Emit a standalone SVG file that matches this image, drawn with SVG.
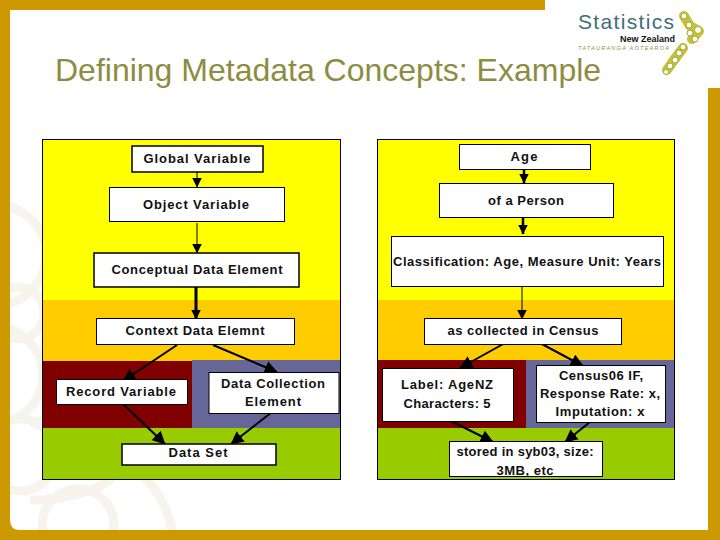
<svg xmlns="http://www.w3.org/2000/svg" width="720" height="540" viewBox="0 0 720 540">
<defs>
<marker id="a" viewBox="0 0 10 10" refX="9.500" refY="5" markerWidth="10" markerHeight="10" markerUnits="userSpaceOnUse" orient="auto"><path d="M0 0L10 5L0 10Z" fill="#000"/></marker>
<marker id="b" viewBox="0 0 10 10" refX="9.500" refY="5" markerWidth="13" markerHeight="13" markerUnits="userSpaceOnUse" orient="auto"><path d="M0 0L10 5L0 10Z" fill="#000"/></marker>
</defs>
<style>
.n{fill:#fff;stroke:#000}
.t{font:bold 13px "Liberation Sans",Arial,sans-serif;fill:#111;text-anchor:middle}
.c{fill:none;stroke:#000;marker-end:url(#a)}
.d{fill:none;stroke:#000;stroke-width:2;marker-end:url(#b)}
.w{fill:none;stroke:#f6f4ec;stroke-width:9}
</style>
<rect width="720" height="540" fill="#fff"/>
<g id="watermark">
<circle cx="-4" cy="255" r="50" class="w"/><circle cx="18" cy="313" r="26" class="w"/><circle cx="-5" cy="375" r="48" class="w"/><circle cx="20" cy="455" r="36" class="w"/><circle cx="78" cy="525" r="36" class="w"/>
<path d="M30 425Q70 405 100 420Q125 440 110 480Q80 500 30 500" class="w"/>
<path d="M125 460Q165 490 172 530" class="w"/>
</g>
<g id="frame" fill="#cc9900">
<path d="M0 0H545V10H10V520Q10 530 20 530H708V88H720V540H0Z"/>
</g>
<text x="55" y="81" font-family="'Liberation Sans',Arial,sans-serif" font-size="32" fill="#8d8d3f">Defining Metadata Concepts: Example</text>
<g id="logo">
<text x="578" y="29" font-family="'Liberation Sans',Arial,sans-serif" font-size="21" fill="#3d6f75" textLength="96">Statistics</text>
<text x="675" y="42" font-family="'Liberation Sans',Arial,sans-serif" font-size="9" font-weight="bold" fill="#111" text-anchor="end">New Zealand</text>
<text x="578" y="49.500" font-family="'Liberation Sans',Arial,sans-serif" font-size="5.500" font-style="italic" fill="#8d8d3f" textLength="91">TATAURANGA AOTEAROA</text>
<path d="M684 16L690 26L699 31L692 39" fill="none" stroke="#c2c23c" stroke-width="10" stroke-linecap="round" stroke-linejoin="round"/>
<path d="M683 48L674 60L667 70" fill="none" stroke="#c2c23c" stroke-width="10" stroke-linecap="round"/>
<g fill="#fff" stroke="#a8a828" stroke-width="1">
<circle cx="684" cy="16" r="3"/><circle cx="689" cy="25" r="3"/><circle cx="698" cy="30" r="3.500"/><circle cx="690" cy="33" r="3"/><circle cx="695" cy="39" r="3"/>
<circle cx="683" cy="47" r="3"/><circle cx="679" cy="53" r="3"/><circle cx="675" cy="60" r="3"/><circle cx="670" cy="66" r="3"/><circle cx="666" cy="72" r="2.500"/>
</g>
</g>
<g id="bands-left">
<rect x="42.500" y="139.500" width="298" height="340" fill="#ffff00"/>
<rect x="43" y="300" width="297" height="61" fill="#ffcc00"/>
<rect x="43" y="361" width="149" height="67" fill="#800000"/>
<rect x="192" y="360" width="148" height="68" fill="#666699"/>
<rect x="43" y="428" width="297" height="51" fill="#99cc00"/>
<rect x="42.500" y="139.500" width="298" height="340" fill="none" stroke="#000"/>
</g>
<g id="bands-right">
<rect x="377.500" y="139.500" width="297" height="340" fill="#ffff00"/>
<rect x="378" y="300" width="296" height="60" fill="#ffcc00"/>
<rect x="378" y="360" width="148" height="68" fill="#800000"/>
<rect x="526" y="360" width="148" height="68" fill="#666699"/>
<rect x="378" y="428" width="296" height="51" fill="#99cc00"/>
<rect x="377.500" y="139.500" width="297" height="340" fill="none" stroke="#000"/>
</g>
<g id="connectors">
<path class="c" d="M197 172V187"/>
<path class="c" d="M197 223V253"/>
<path class="c" d="M196 281V319" stroke-width="3"/>
<path class="d" d="M177 345L123 381"/>
<path class="d" d="M213 345L277 372"/>
<path class="d" d="M122 403L165 444" stroke-width="1.500"/>
<path class="d" d="M272 412L231 444"/>
<path class="c" d="M524 170V183" stroke-width="2.500"/>
<path class="c" d="M523 216V234" stroke-width="2.500"/>
<path class="c" d="M522 285V319"/>
<path class="d" d="M505 343L460 368"/>
<path class="d" d="M540 343L583 366"/>
<path class="d" d="M445 418L493 442"/>
<path class="d" d="M590 422L565 442"/>
</g>
<g id="n1"><rect class="n" x="132" y="146" width="131" height="26" stroke-width="1.500"/><text class="t" x="197" y="163" textLength="107">Global Variable</text></g>
<g id="n2"><rect class="n" x="109.500" y="187.500" width="175" height="34"/><text class="t" x="196" y="209" textLength="106">Object Variable</text></g>
<g id="n3"><rect class="n" x="94" y="253" width="205" height="34" stroke-width="1.500"/><text class="t" x="197" y="274" textLength="171">Conceptual Data Element</text></g>
<g id="n4"><rect class="n" x="96.500" y="318.500" width="198" height="26"/><text class="t" x="195" y="335" textLength="139">Context Data Elemnt</text></g>
<g id="n5"><rect class="n" x="56.500" y="379.500" width="131" height="25"/><text class="t" x="121" y="396" textLength="110">Record Variable</text></g>
<g id="n6"><rect class="n" x="209" y="372.500" width="130" height="41"/><text class="t" x="273" y="388" textLength="104">Data Collection</text><text class="t" x="273" y="406" textLength="56">Element</text></g>
<g id="n7"><rect class="n" x="122" y="444" width="154" height="21" stroke-width="1.500"/><text class="t" x="198" y="457" textLength="59">Data Set</text></g>
<g id="n8"><rect class="n" x="459.500" y="144.500" width="131" height="25"/><text class="t" x="524" y="161" textLength="27">Age</text></g>
<g id="n9"><rect class="n" x="439.500" y="183.500" width="174" height="34"/><text class="t" x="526" y="205" textLength="76">of a Person</text></g>
<g id="n10"><rect class="n" x="391.500" y="236.500" width="272" height="50"/><text class="t" x="527" y="266" textLength="268">Classification: Age, Measure Unit: Years</text></g>
<g id="n11"><rect class="n" x="424.500" y="318.500" width="197" height="26"/><text class="t" x="523" y="335" textLength="151">as collected in Census</text></g>
<g id="n12"><rect class="n" x="382.500" y="368.500" width="131" height="53"/><text class="t" x="447" y="389" textLength="92">Label: AgeNZ</text><text class="t" x="447" y="408" textLength="87">Characters: 5</text></g>
<g id="n13"><rect class="n" x="536.500" y="365.500" width="129" height="57"/><text class="t" x="601" y="380" textLength="84">Census06 IF,</text><text class="t" x="600" y="398" textLength="120">Response Rate: x,</text><text class="t" x="600" y="416" textLength="89">Imputation: x</text></g>
<g id="n14"><rect class="n" x="449.500" y="441.500" width="153" height="35"/><text class="t" x="525" y="456" textLength="137">stored in syb03, size:</text><text class="t" x="525" y="475" textLength="57">3MB, etc</text></g>
</svg>
